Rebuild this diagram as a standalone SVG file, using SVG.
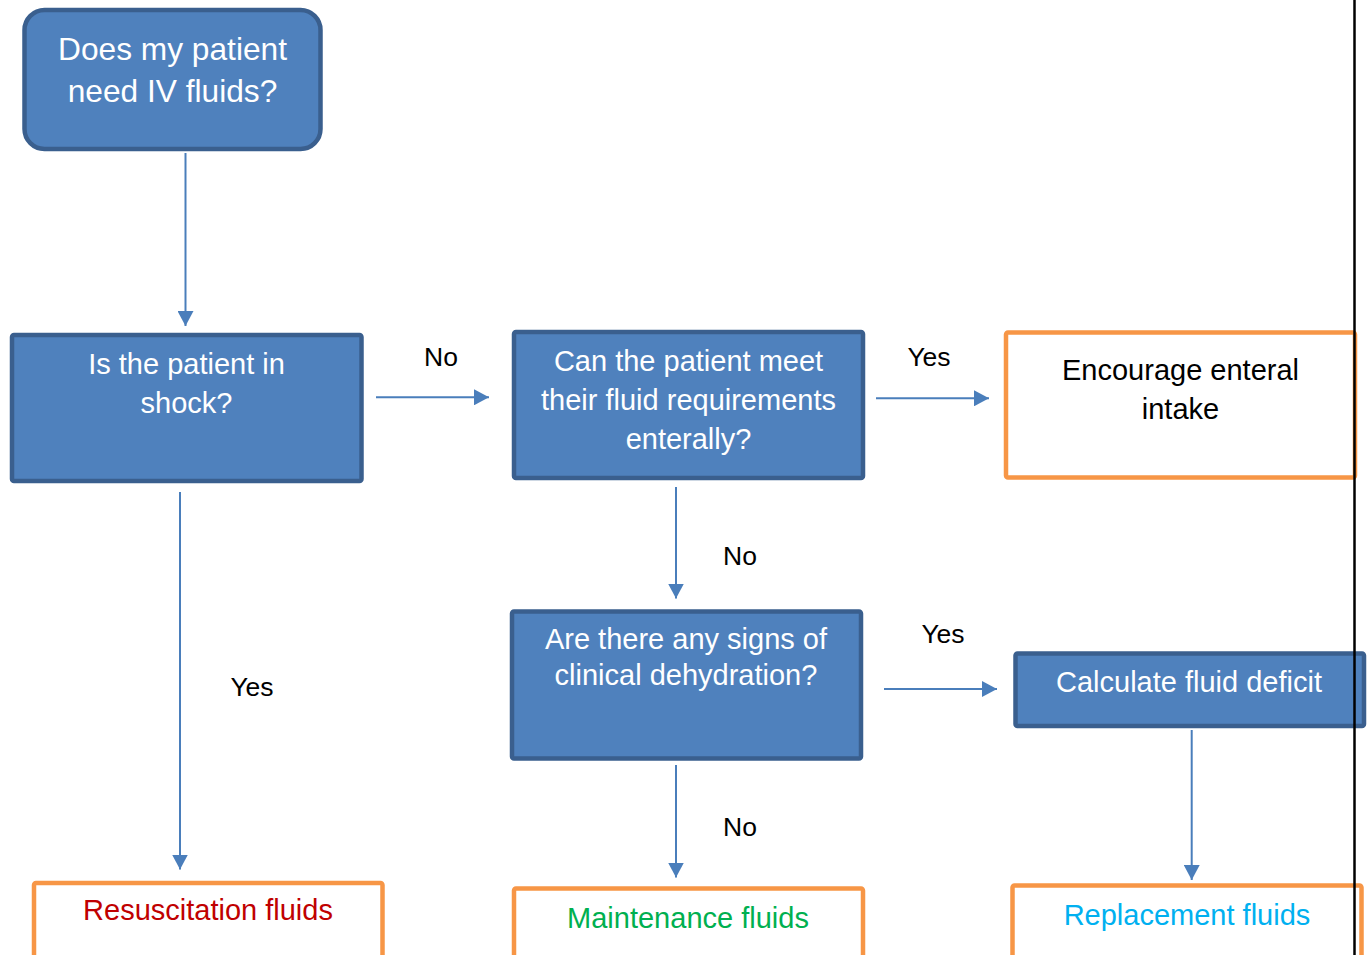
<svg xmlns="http://www.w3.org/2000/svg" width="1371" height="955" viewBox="0 0 1371 955">
<style>
.q{fill:#4f81bd;stroke:#3a5f8e;stroke-width:4.5}
.o{fill:#ffffff;stroke:#f79646;stroke-width:4.5}
.wt{font-family:"Liberation Sans",Arial,sans-serif;font-size:29px;fill:#ffffff;text-anchor:middle}
.bt{font-family:"Liberation Sans",Arial,sans-serif;font-size:29px;fill:#000000;text-anchor:middle}
.lb{font-family:"Liberation Sans",Arial,sans-serif;font-size:26.5px;fill:#000000;text-anchor:middle}
.e{stroke:#4a7ebb;stroke-width:2;fill:none;marker-end:url(#ah)}
</style>
<defs>
<marker id="ah" viewBox="0 0 15 16" refX="15" refY="8" markerWidth="15" markerHeight="16" markerUnits="userSpaceOnUse" orient="auto">
<path d="M0,0 L15,8 L0,16 z" fill="#4a7ebb"/>
</marker>
</defs>
<rect x="0" y="0" width="1371" height="955" fill="#ffffff"/>
<g id="n1">
<rect class="q" x="24.5" y="10" width="296" height="139" rx="20"/>
<text class="wt" x="172.5" y="60" style="font-size:31.7px">Does my patient</text>
<text class="wt" x="172.5" y="102" style="font-size:31.7px">need IV fluids?</text>
</g>
<g id="n2">
<rect class="q" x="12" y="335" width="349.5" height="146" rx="2"/>
<text class="wt" x="186.5" y="374">Is the patient in</text>
<text class="wt" x="186.5" y="413">shock?</text>
</g>
<g id="n3">
<rect class="q" x="514" y="332" width="349" height="146" rx="2"/>
<text class="wt" x="688.5" y="371">Can the patient meet</text>
<text class="wt" x="688.5" y="410">their fluid requirements</text>
<text class="wt" x="688.5" y="449">enterally?</text>
</g>
<g id="n4">
<rect class="o" x="1006" y="332.5" width="349" height="145" rx="2"/>
<text class="bt" x="1180.5" y="380">Encourage enteral</text>
<text class="bt" x="1180.5" y="419">intake</text>
</g>
<g id="n5">
<rect class="q" x="512" y="611.5" width="349" height="147" rx="2"/>
<text class="wt" x="686" y="649">Are there any signs of</text>
<text class="wt" x="686" y="685">clinical dehydration?</text>
</g>
<g id="n6">
<rect class="q" x="1015.5" y="653.5" width="348.5" height="72.5" rx="2"/>
<text class="wt" x="1189" y="692">Calculate fluid deficit</text>
</g>
<g id="n7">
<rect class="o" x="34" y="883" width="348.5" height="100" rx="2"/>
<text class="bt" x="208" y="920" style="fill:#c00000">Resuscitation fluids</text>
</g>
<g id="n8">
<rect class="o" x="514" y="888.5" width="349" height="100" rx="2"/>
<text class="bt" x="688" y="928" style="fill:#00b050">Maintenance fluids</text>
</g>
<g id="n9">
<rect class="o" x="1012.5" y="885.5" width="349" height="100" rx="2"/>
<text class="bt" x="1187" y="925" style="fill:#00b0f0">Replacement fluids</text>
</g>
<g id="connectors">
<line class="e" x1="185.5" y1="153" x2="185.5" y2="326"/>
<line class="e" x1="376" y1="397.3" x2="489" y2="397.3"/>
<line class="e" x1="876" y1="398.3" x2="989" y2="398.3"/>
<line class="e" x1="676" y1="487" x2="676" y2="598.5"/>
<line class="e" x1="884" y1="689" x2="997" y2="689"/>
<line class="e" x1="1191.7" y1="730" x2="1191.7" y2="880"/>
<line class="e" x1="180" y1="492" x2="180" y2="869.5"/>
<line class="e" x1="676" y1="765" x2="676" y2="877.5"/>
<text class="lb" x="441" y="365.5">No</text>
<text class="lb" x="929" y="365.5">Yes</text>
<text class="lb" x="740" y="565">No</text>
<text class="lb" x="943" y="643">Yes</text>
<text class="lb" x="252" y="696">Yes</text>
<text class="lb" x="740" y="835.5">No</text>
</g>
<line x1="1354.5" y1="0" x2="1354.5" y2="955" stroke="#000000" stroke-width="2.5"/>
</svg>
